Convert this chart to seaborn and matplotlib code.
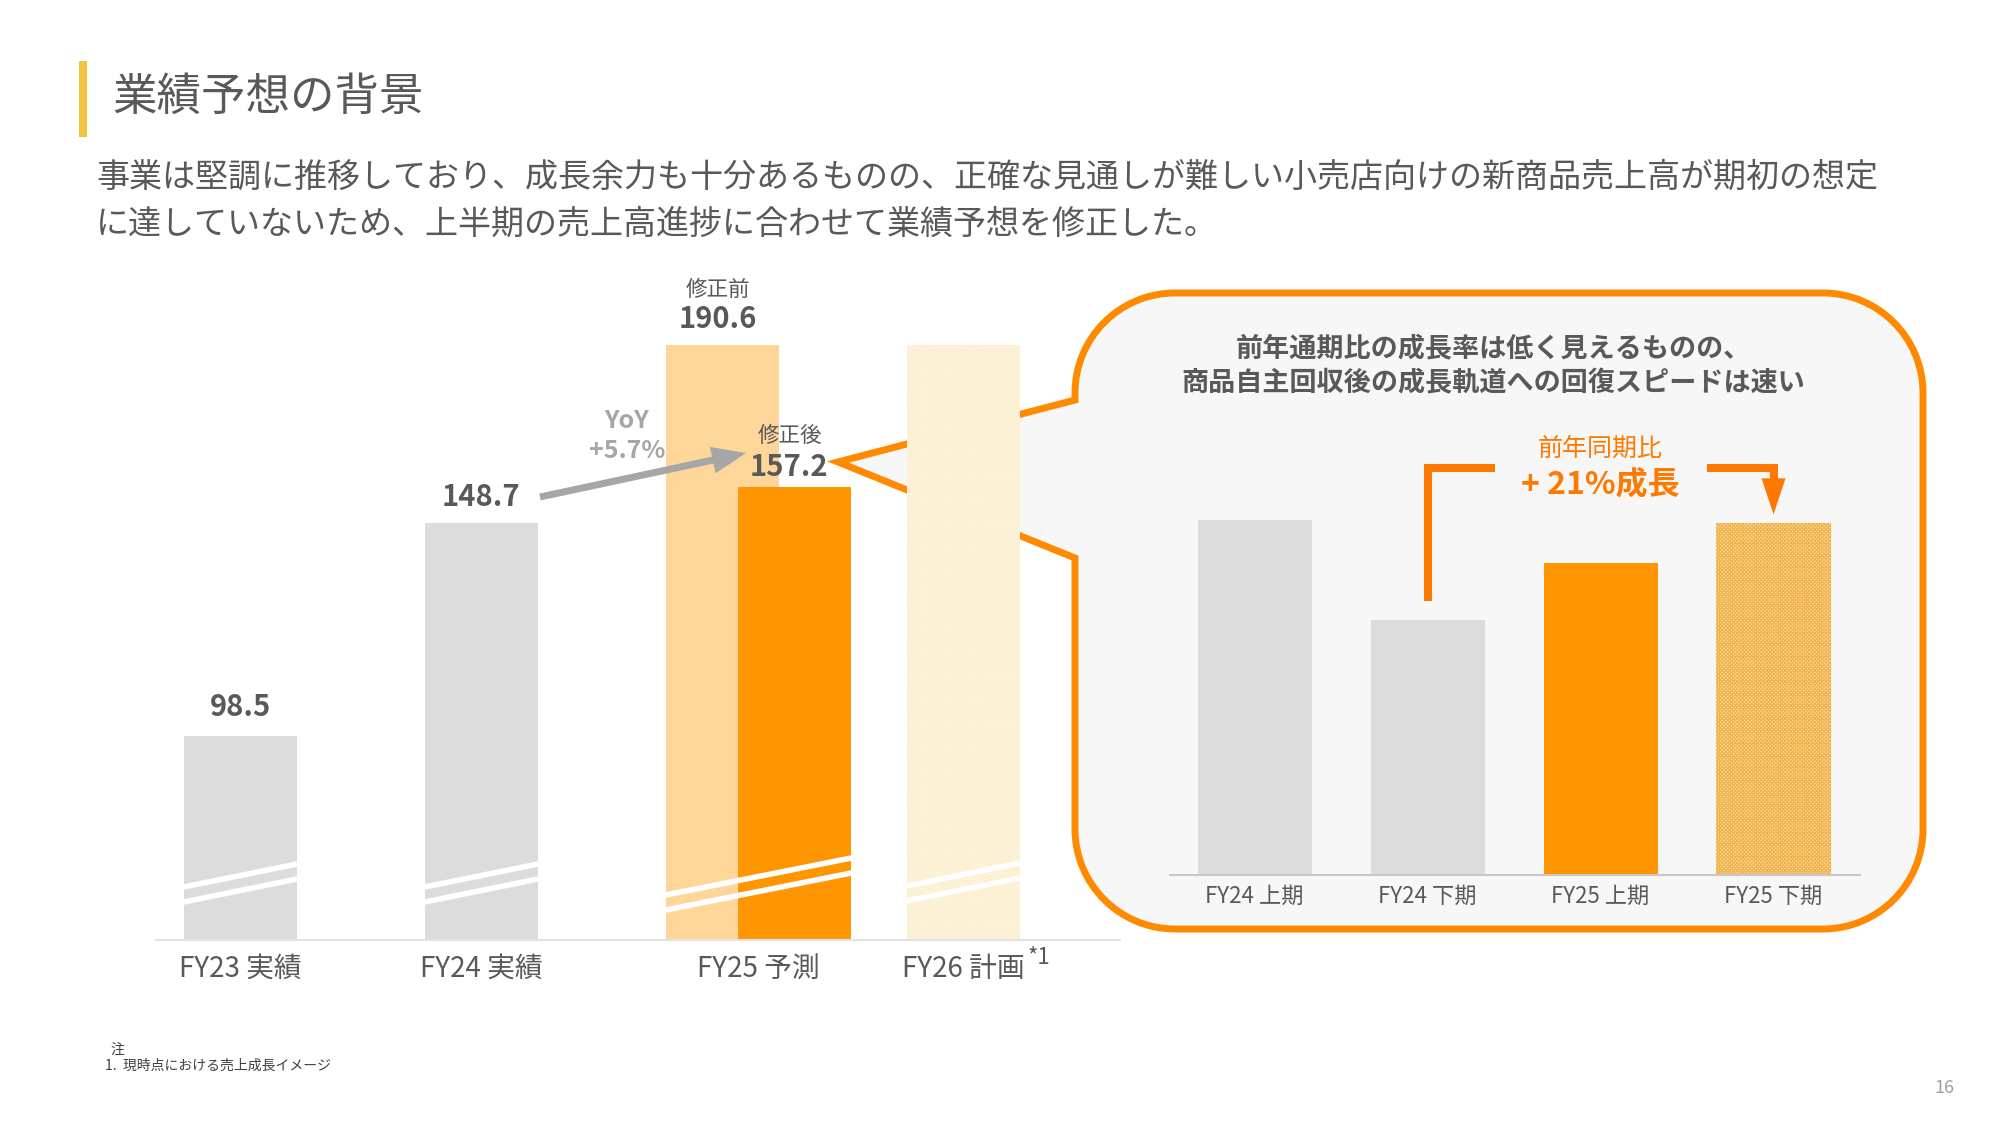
import matplotlib
matplotlib.use("Agg")
import matplotlib.pyplot as plt
import matplotlib.patches as mpatches
from matplotlib.path import Path
import seaborn as sns

# ---------------- data ----------------
main_categories = ["FY23 実績", "FY24 実績", "FY25 予測", "FY26 計画"]
main_values = [98.5, 148.7, 190.6, 190.6]          # FY25 = 修正前
main_labels = ["98.5", "148.7", "190.6", ""]
fy25_revised = 157.2
fy25_revised_label = "157.2"
half_categories = ["FY24 上期", "FY24 下期", "FY25 上期", "FY25 下期"]
half_values = [82.2, 66.5, 75.5, 81.7]

title = "業績予想の背景"
subtitle_lines = [
    "事業は堅調に推移しており、成長余力も十分あるものの、正確な見通しが難しい小売店向けの新商品売上高が期初の想定",
    "に達していないため、上半期の売上高進捗に合わせて業績予想を修正した。",
]
bubble_lines = ["前年通期比の成長率は低く見えるものの、", "商品自主回収後の成長軌道への回復スピードは速い"]
growth_caption = "前年同期比"
growth_label = "+ 21%成長"
yoy_lines = ["YoY", "+5.7%"]
before_label = "修正前"
after_label = "修正後"
note_head = "注"
note_line = "1.  現時点における売上成長イメージ"
page_no = "16"

# ---------------- style ----------------
sns.set_theme(style="white")
plt.rcParams["font.family"] = ["Noto Sans CJK JP", "DejaVu Sans"]
plt.rcParams["hatch.linewidth"] = 0.9

TEXT = "#595959"
GRAY = "#DCDCDC"
ORANGE = "#FF9500"
PEACH = "#FFD699"
CREAM = "#FFFAEC"
BORDER = "#FF8A00"
BRACKET = "#FF7800"
YOY_GRAY = "#A6A6A6"

W, H = 2000, 1125
fig = plt.figure(figsize=(20, 11.25), dpi=100)
fig.patch.set_facecolor("white")


def overlay(z):
    a = fig.add_axes([0, 0, 1, 1])
    a.set_xlim(0, W)
    a.set_ylim(H, 0)
    a.axis("off")
    a.set_zorder(z)
    a.patch.set_alpha(0)
    return a


ax_bg = overlay(0)


def fig_rect(x0, y0, x1, y1):
    return [x0 / W, 1 - y1 / H, (x1 - x0) / W, (y1 - y0) / H]


def to_px(a, x, y):
    d = a.transData.transform((x, y))
    return ax_bg.transData.inverted().transform(d)


# ---------------- header ----------------
ax_bg.add_patch(mpatches.Rectangle((79, 61), 8, 76, color="#F5C443", lw=0))
ax_bg.text(112, 97, title, fontsize=32, color=TEXT, va="center", ha="left")
for i, line in enumerate(subtitle_lines):
    ax_bg.text(96, 177 + i * 47, line, fontsize=23.8, color=TEXT, va="center", ha="left")

# ---------------- speech bubble ----------------
L, R, T, B, r = 1075, 1923, 293, 929, 100
tip = (838, 462)
k = 0.5523 * r
verts = [
    (L + r, T), (R - r, T),
    (R - r + k, T), (R, T + r - k), (R, T + r),
    (R, B - r),
    (R, B - r + k), (R - r + k, B), (R - r, B),
    (L + r, B),
    (L + r - k, B), (L, B - r + k), (L, B - r),
    (L, 558), tip, (L, 400), (L, T + r),
    (L, T + r - k), (L + r - k, T), (L + r, T),
    (L + r, T),
]
codes = [Path.MOVETO, Path.LINETO,
         Path.CURVE4, Path.CURVE4, Path.CURVE4,
         Path.LINETO,
         Path.CURVE4, Path.CURVE4, Path.CURVE4,
         Path.LINETO,
         Path.CURVE4, Path.CURVE4, Path.CURVE4,
         Path.LINETO, Path.LINETO, Path.LINETO, Path.LINETO,
         Path.CURVE4, Path.CURVE4, Path.CURVE4,
         Path.CLOSEPOLY]
ax_bg.add_patch(mpatches.PathPatch(Path(verts, codes), facecolor="#F7F7F7",
                                   edgecolor=BORDER, lw=5, joinstyle="miter"))
for i, line in enumerate(bubble_lines):
    ax_bg.text(1493, 348 + i * 35, line, fontsize=19.5, fontweight="bold",
               color=TEXT, ha="center", va="center")

# ---------------- main chart ----------------
ax = fig.add_axes(fig_rect(156, 260, 1120, 940))
ax.set_zorder(2)
ax.patch.set_alpha(0)
sns.barplot(x=main_categories, y=main_values, hue=main_categories,
            palette=[GRAY, GRAY, PEACH, CREAM], legend=False, width=0.47,
            saturation=1, linewidth=0, ax=ax)
post_pos = 2.30
bw = 0.47
ax.bar(post_pos, fy25_revised, width=bw, color=ORANGE, linewidth=0, zorder=2)
fy26 = ax.patches[3]
fy26.set_hatch("x" * 9)
fy26.set_edgecolor("#FCEFCF")
fy26.set_linewidth(0)

ymin = 50.6
ppu = 4.25
ax.set_ylim(ymin, ymin + 680 / ppu)
ax.set_xlim(-0.35, 3.65)
ax.set_xticks([0, 1, 2.15, 3])
ax.set_xticklabels(main_categories, fontsize=20, color=TEXT)
ax.tick_params(axis="x", length=0, pad=10)
ax.set_yticks([])
ax.set_xlabel("")
ax.set_ylabel("")
for s in ["top", "right", "left"]:
    ax.spines[s].set_visible(False)
ax.spines["bottom"].set_color("#E3E3E3")
ax.spines["bottom"].set_linewidth(1.5)


# axis-break slashes (white)
def slash(x0, x1, a0, a1):
    ax.plot([x0, x1], [ymin + a0 / ppu, ymin + a1 / ppu], color="white", lw=4,
            solid_capstyle="butt", zorder=5)


for c in [0, 1]:
    slash(c - bw / 2, c + bw / 2, 53, 76)
    slash(c - bw / 2, c + bw / 2, 38, 61)
slash(2 - bw / 2, post_pos + bw / 2, 45, 82)
slash(2 - bw / 2, post_pos + bw / 2, 30, 67)
slash(3 - bw / 2, 3 + bw / 2, 54, 77)
slash(3 - bw / 2, 3 + bw / 2, 39, 62)

pt = 1 / 1.389
for xi, v, lab, off in [(0, main_values[0], main_labels[0], 29),
                        (1, main_values[1], main_labels[1], 26),
                        (2 - 0.02, main_values[2], main_labels[2], 26),
                        (post_pos - 0.025, fy25_revised, fy25_revised_label, 20)]:
    ax.annotate(lab, xy=(xi, v), xytext=(0, off * pt), textcoords="offset points",
                ha="center", va="center", fontsize=21, fontweight="bold", color=TEXT,
                annotation_clip=False)
ax.annotate(before_label, xy=(2 - 0.02, main_values[2]), xytext=(0, 55 * pt),
            textcoords="offset points", ha="center", va="center", fontsize=15.5,
            color=TEXT, annotation_clip=False)
ax.annotate(after_label, xy=(post_pos - 0.02, fy25_revised), xytext=(0, 51 * pt),
            textcoords="offset points", ha="center", va="center", fontsize=15.5,
            color=TEXT, annotation_clip=False)

# ---------------- foreground overlay ----------------
ax_fg = overlay(10)

# superscript for FY26 label
ax_fg.text(1028, 957, "*1", fontsize=16, color=TEXT, ha="left", va="center")

# YoY arrow and label
ax_fg.add_patch(mpatches.FancyArrow(540, 497, 206, -44, width=7, head_width=27,
                                    head_length=34, length_includes_head=True,
                                    color=YOY_GRAY, lw=0))
ax_fg.text(627, 421, yoy_lines[0], fontsize=18, fontweight="bold", color=YOY_GRAY,
           ha="center", va="center")
ax_fg.text(627, 451, yoy_lines[1], fontsize=18, fontweight="bold", color=YOY_GRAY,
           ha="center", va="center")

# ---------------- inner (half-year) chart ----------------
ax_in = fig.add_axes(fig_rect(1170, 440, 1860, 875))
ax_in.set_zorder(3)
ax_in.patch.set_alpha(0)
sns.barplot(x=half_categories, y=half_values, hue=half_categories,
            palette=[GRAY, GRAY, ORANGE, "#FFE6B4"], legend=False, width=0.66,
            saturation=1, linewidth=0, ax=ax_in)
h4 = ax_in.patches[3]
h4.set_hatch("x" * 9)
h4.set_edgecolor("#F2B048")
h4.set_linewidth(0)
ymin_in = 26.35
ax_in.set_ylim(ymin_in, ymin_in + 435 * 0.1574)
ax_in.set_xlim(-0.49, 3.5)
ax_in.set_yticks([])
ax_in.set_xlabel("")
ax_in.set_ylabel("")
ax_in.tick_params(axis="x", length=0, pad=7, labelsize=16, labelcolor=TEXT)
for s in ["top", "right", "left"]:
    ax_in.spines[s].set_visible(False)
ax_in.spines["bottom"].set_color("#C8C8C8")
ax_in.spines["bottom"].set_linewidth(1.5)

# growth bracket
x1, y1 = to_px(ax_in, 1, half_values[1])
x3, y3 = to_px(ax_in, 3, half_values[3])
ytop = 468
ax_fg.plot([x1, x1, 1495], [y1 - 19, ytop, ytop], color=BRACKET, lw=5.8,
           solid_joinstyle="miter", solid_capstyle="butt")
tip_y = y3 - 9
ax_fg.plot([1707, x3, x3], [ytop, ytop, tip_y - 30], color=BRACKET, lw=5.8,
           solid_joinstyle="miter", solid_capstyle="butt")
ax_fg.add_patch(mpatches.Polygon([(x3 - 12, tip_y - 36), (x3 + 12, tip_y - 36), (x3, tip_y)],
                                 closed=True, color=BRACKET, lw=0))
ax_fg.text(1600, 449, growth_caption, fontsize=18, color=BRACKET, ha="center", va="center")
ax_fg.text(1600, 484, growth_label, fontsize=23, fontweight="bold", color=BRACKET,
           ha="center", va="center")

# ---------------- footnote / page ----------------
ax_bg.text(110, 1050, note_head, fontsize=10, color="#404040", ha="left", va="center")
ax_bg.text(105, 1066, note_line, fontsize=10, color="#404040", ha="left", va="center")
ax_bg.text(1944, 1088, page_no, fontsize=13, color="#A0A0A0", ha="center", va="center")

fig.savefig("out.png", dpi=100, facecolor="white")
